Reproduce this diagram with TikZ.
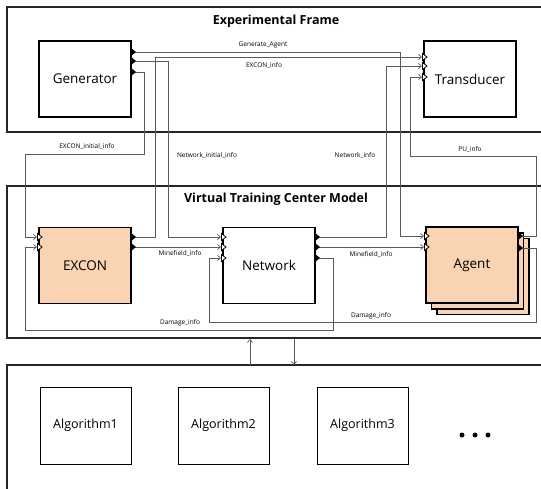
\documentclass[tikz,border=0pt]{standalone}
\usepackage{fontspec}
\setmainfont{Open Sans}
\usetikzlibrary{arrows.meta,calc}
\definecolor{peach}{HTML}{F9D3B2}
\definecolor{wire}{HTML}{5A5A5A}
\tikzset{
  frame/.style={draw=black!85, line width=1.3pt},
  block/.style={draw=black, line width=1.1pt, fill=white, inner sep=0pt,
    minimum width=92pt, minimum height=76pt, font=\fontsize{13.5}{15}\selectfont},
  algbox/.style={block, minimum width=91pt, minimum height=77pt, line width=0.9pt,
    font=\fontsize{12.5}{15}\selectfont},
  model/.style={block, fill=peach},
  title/.style={font=\fontsize{12.5}{15}\selectfont\bfseries},
  lbl/.style={font=\fontsize{6.5}{8}\selectfont, inner sep=1pt},
  conn/.style={draw=wire, line width=0.7pt, -{Straight Barb[length=3pt,width=5pt]}},
  dot/.style={fill=black, circle, inner sep=0pt, minimum size=5pt},
}
% output port: black triangle on a right edge
\newcommand\outport[1]{\fill[black] ($(#1)+(-0.5,-4.5)$) -- ($(#1)+(5,0)$) -- ($(#1)+(-0.5,4.5)$) -- cycle;}
% input port: open triangle on a left edge
\newcommand\inport[1]{\draw[black, line width=0.8pt, fill=white] ($(#1)+(-1.5,-3.5)$) -- ($(#1)+(3,0)$) -- ($(#1)+(-1.5,3.5)$) -- cycle;}
\begin{document}
\begin{tikzpicture}[x=1pt,y=-1pt]
\useasboundingbox (0,0) rectangle (541,489);
\clip (0,0) rectangle (541,489);

% outer frames
\draw[frame] (7,7) rectangle (560,132);
\draw[frame] (7,186) rectangle (560,338);
\draw[frame] (7,365) rectangle (560,520);
\node[title] (eftitle) at (276,21) {Experimental Frame};
\node[title] (vttitle) at (276,199) {Virtual Training Center Model};

% experimental frame models
\node[block] (gen) at (85,79) {Generator};
\node[block] (trans) at (470,79) {Transducer};

% virtual training center models
\node[model] (excon) at (85,265.5) {EXCON};
\node[block] (net) at (269,265.5) {Network};
\node[model] (agent3) at (483,276.5) {};
\node[model] (agent2) at (477.5,271) {};
\node[model] (agent) at (472,265) {Agent};

% algorithms
\node[algbox] (alg1) at (85.5,425.5) {Algorithm1};
\node[algbox] (alg2) at (223.5,425.5) {Algorithm2};
\node[algbox] (alg3) at (362.5,425.5) {Algorithm3};
\node[dot] (dot1) at (462,435) {};
\node[dot] (dot2) at (475,435) {};
\node[dot] (dot3) at (488,435) {};

% port positions
\coordinate (g1) at (131,52);  \coordinate (g2) at (131,61);  \coordinate (g3) at (131,72);
\coordinate (t1) at (424,57);  \coordinate (t2) at (424,66);  \coordinate (t3) at (424,77);
\coordinate (ei1) at (39,237); \coordinate (ei2) at (39,247);
\coordinate (eo1) at (131,237);\coordinate (eo2) at (131,247);
\coordinate (ni1) at (223,237);\coordinate (ni2) at (223,247);\coordinate (ni3) at (223,258);
\coordinate (no1) at (315,237);\coordinate (no2) at (315,247);\coordinate (no3) at (315,258);
\coordinate (ai1) at (426,236);\coordinate (ai2) at (426,247);
\coordinate (ao1) at (518,236);\coordinate (ao2) at (518,248);

% couplings
\draw[conn] (g1) -- (400,52) -- (400,236) -- ($(ai1)+(-2,0)$);
\node[lbl] (lga) at (263,44.5) {Generate\_Agent};

\draw[conn] (g2) -- (168,61) -- (168,237) -- ($(ni1)+(-2,0)$);
\node[lbl] (lnii) at (207,156) {Network\_initial\_info};

\draw[conn] (g3) -- (144,72) -- (144,154) -- (25,154) -- (25,237) -- ($(ei1)+(-2,0)$);
\node[lbl] (leii) at (87,147) {EXCON\_initial\_info};

\draw[conn] (eo1) -- (155,237) -- (155,57) -- ($(t1)+(-2,0)$);
\node[lbl] (lei) at (264,66) {EXCON\_info};

\draw[conn] (no1) -- (386,237) -- (386,66) -- ($(t2)+(-2,0)$);
\node[lbl] (lni) at (355,156) {Network\_info};

\draw[conn] (ao1) -- (536,236) -- (536,156) -- (410,156) -- (410,77) -- ($(t3)+(-2,0)$);
\node[lbl] (lpu) at (470,149.5) {PU\_info};

\draw[conn] (eo2) -- ($(ni2)+(-2,0)$);
\node[lbl] (lmf1) at (180,254) {Minefield\_info};

\draw[conn] (no2) -- ($(ai2)+(-2,0)$);
\node[lbl] (lmf2) at (371,255) {Minefield\_info};

\draw[conn] (ao2) -- (536,248) -- (536,322) -- (209,322) -- (209,258) -- ($(ni3)+(-2,0)$);
\node[lbl] (ldm2) at (371,316) {Damage\_info};

\draw[conn] (no3) -- (333,258) -- (333,330) -- (25,330) -- (25,247) -- ($(ei2)+(-2,0)$);
\node[lbl] (ldm1) at (180,323) {Damage\_info};

% ports drawn over the wires
\foreach \p in {g1,g2,g3,eo1,eo2,no1,no2,no3,ao1,ao2} {\outport{\p}}
\foreach \p in {t1,t2,t3,ei1,ei2,ni1,ni2,ni3,ai1,ai2} {\inport{\p}}

% exchange between the model and the algorithms
\coordinate (up0) at (250,365); \coordinate (up1) at (250,339);
\coordinate (dn0) at (294,339); \coordinate (dn1) at (294,365);
\draw[conn] (up0) -- (up1);
\draw[conn] (dn0) -- (dn1);
\end{tikzpicture}
\end{document}
